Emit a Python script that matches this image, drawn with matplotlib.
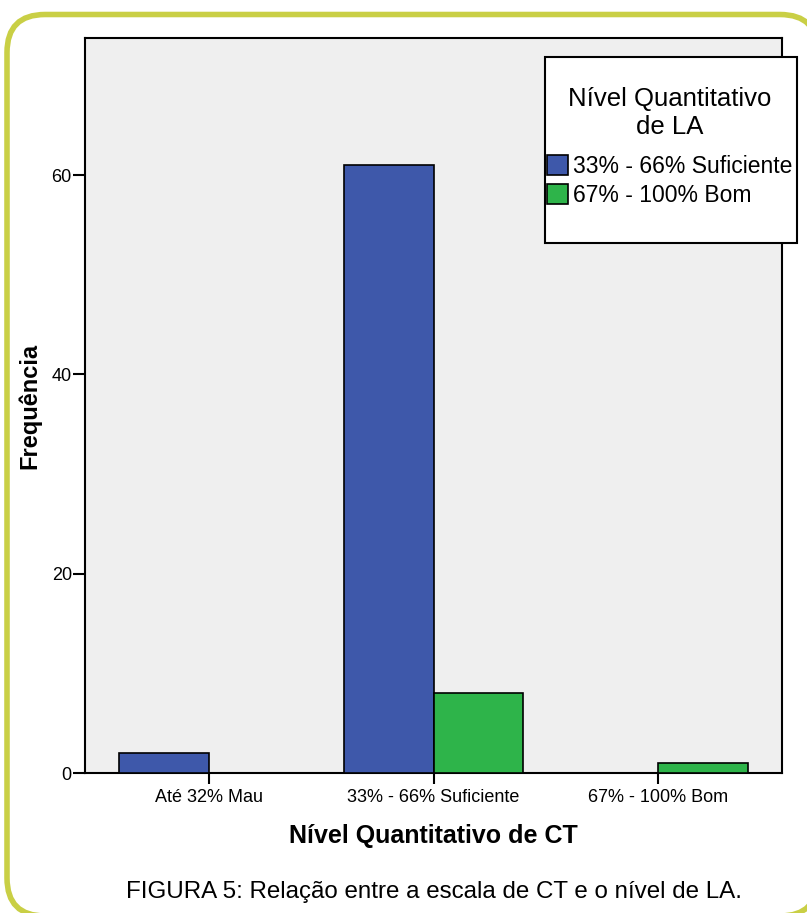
import numpy as np
import matplotlib
matplotlib.use("Agg")
import matplotlib.pyplot as plt
from matplotlib.patches import FancyBboxPatch, Rectangle, Patch

plt.rcParams['font.family'] = ['Liberation Sans', 'DejaVu Sans']

categories = ["Até 32% Mau", "33% - 66% Suficiente", "67% - 100% Bom"]
series_names = ["33% - 66% Suficiente", "67% - 100% Bom"]
suficiente = [2, 61, 0]
bom = [0, 8, 1]

BLUE = "#3e58aa"
GREEN = "#2eb44a"

W, H = 807, 913
fig = plt.figure(figsize=(W / 100, H / 100), dpi=100)
ax = fig.add_axes([85 / W, 1 - 773 / H, (782 - 85) / W, (773 - 38) / H])
ax.set_facecolor("#efefef")

x = np.arange(len(categories))
width = 0.4
for i in range(len(categories)):
    if suficiente[i] > 0:
        ax.bar(x[i] - width / 2, suficiente[i], width, color=BLUE,
               edgecolor="black", linewidth=1.2, zorder=3)
    if bom[i] > 0:
        ax.bar(x[i] + width / 2, bom[i], width, color=GREEN,
               edgecolor="black", linewidth=1.2, zorder=3)

ax.set_xlim(-0.5523, 2.5523)
ax.set_ylim(0, 73.75)
ax.set_xticks(x)
ax.set_xticklabels(categories, fontsize=13)
ax.set_yticks([0, 20, 40, 60])
ax.tick_params(axis='y', length=9, width=1.5, pad=0.5, labelsize=13)
ax.tick_params(axis='x', length=8, width=1.5, pad=3.5)
for s in ax.spines.values():
    s.set_linewidth(1.5)
    s.set_color("black")

ax.set_xlabel("Nível Quantitativo de CT", fontsize=18, fontweight='bold')
ax.xaxis.set_label_coords(0.5, -0.069)
ax.xaxis.label.set_va('top')
ax.set_ylabel("Frequência", fontsize=17, fontweight='bold')
ax.yaxis.set_label_coords(-0.062, 0.5)

# legend box
box = Rectangle((545 / W, 1 - 243 / H), 252 / W, 186 / H, transform=fig.transFigure,
                facecolor="white", edgecolor="black", linewidth=1.5, zorder=8,
                clip_on=False)
ax.add_patch(box)
fig.text(670 / W, 1 - 106 / H, "Nível Quantitativo", ha='center', va='baseline',
         fontsize=18.5, zorder=10)
fig.text(670 / W, 1 - 134 / H, "de LA", ha='center', va='baseline',
         fontsize=18.5, zorder=10)
handles = [Patch(facecolor=BLUE, edgecolor="black", linewidth=1.2),
           Patch(facecolor=GREEN, edgecolor="black", linewidth=1.2)]
leg = ax.legend(handles, series_names,
                loc='upper left', bbox_to_anchor=(547 / W, 1 - 155 / H),
                bbox_transform=fig.transFigure, frameon=False, fontsize=16.5,
                borderpad=0, borderaxespad=0,
                handlelength=0.92, handleheight=0.95, handletextpad=0.22,
                labelspacing=0.24)
leg.set_zorder(10)

# caption
fig.text(434 / W, 1 - 898 / H, "FIGURA 5: Relação entre a escala de CT e o nível de LA.",
         ha='center', va='baseline', fontsize=17.4)

# rounded border (white fill so the stroke is not clipped at the canvas edge)
border = FancyBboxPatch((7 / W, -3 / H), 811 / W, 901.5 / H,
                        boxstyle="round,pad=0,rounding_size=%f" % (38 / W),
                        mutation_aspect=W / H,
                        transform=fig.transFigure, facecolor="white",
                        edgecolor="#c9cf45", linewidth=4, zorder=-1)
fig.patches.append(border)

fig.savefig("out.png", dpi=100)
